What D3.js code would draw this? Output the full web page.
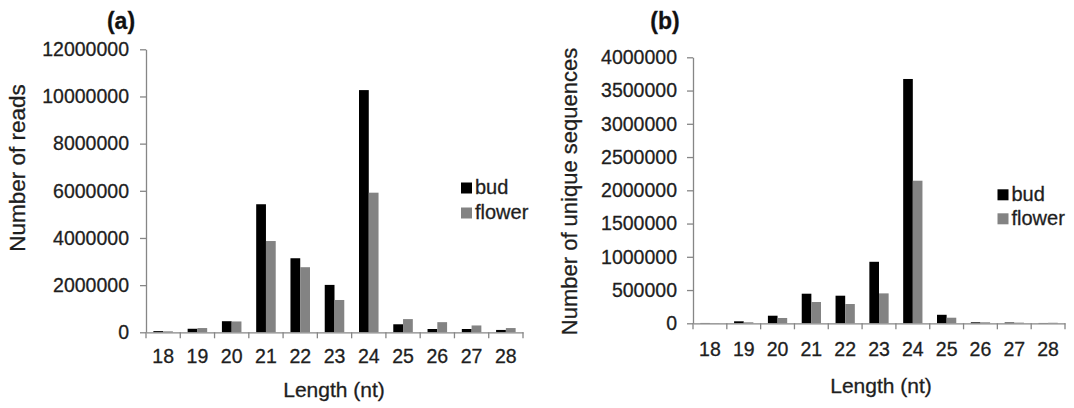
<!DOCTYPE html>
<html>
<head>
<meta charset="utf-8">
<script src="https://cdn.jsdelivr.net/npm/d3@7"></script>
<style>
  html, body { margin: 0; padding: 0; background: #fff; }
  svg { display: block; font-family: "Liberation Sans", Arial, sans-serif; }
  svg text { stroke: #1e1e1e; stroke-width: 0.3px; }
</style>
</head>
<body>
<svg id="chart" width="1074" height="408"></svg>
<script>
// ---------- data ----------
const lengths = ["18", "19", "20", "21", "22", "23", "24", "25", "26", "27", "28"];
const seriesNames = ["bud", "flower"];
const seriesColors = ["#000000", "#838383"];

// (a) Number of reads
const readsBud    = [50000, 150000, 470000, 5430000, 3140000, 2010000, 10270000, 340000, 140000, 140000, 100000];
const readsFlower = [40000, 180000, 460000, 3870000, 2760000, 1370000, 5920000, 560000, 430000, 290000, 180000];
const readsTicks  = [0, 2000000, 4000000, 6000000, 8000000, 10000000, 12000000];

// (b) Number of unique sequences
const uniqueBud    = [5000, 30000, 114000, 445000, 415000, 925000, 3674000, 128000, 15000, 12000, 5000];
const uniqueFlower = [3000, 15000, 80000, 320000, 290000, 450000, 2144000, 84000, 15000, 10000, 8000];
const uniqueTicks  = [0, 500000, 1000000, 1500000, 2000000, 2500000, 3000000, 3500000, 4000000];

const panelTitles = ["(a)", "(b)"];
const yTitles = ["Number of reads", "Number of unique sequences"];
const xTitle = "Length (nt)";

// ---------- drawing ----------
const svg = d3.select("#chart");
const textColor = "#1e1e1e";
const axisColor = "#868686";

function drawPanel(opt) {
  const g = svg.append("g");
  const x = d3.scaleBand().domain(lengths).range([opt.x0, opt.x1])
    .paddingInner(0.43).paddingOuter(0.215);
  const xs = d3.scaleBand().domain(seriesNames).range([0, x.bandwidth()]);
  const y = d3.scaleLinear().domain([0, d3.max(opt.ticks)]).range([opt.y0, opt.y1]);

  const rows = lengths.map((c, i) => ({ c, vals: [opt.bud[i], opt.flower[i]] }));

  // bars
  const grp = g.append("g").selectAll("g").data(rows).join("g")
    .attr("transform", d => `translate(${x(d.c)},0)`);
  grp.selectAll("rect")
    .data(d => d.vals.map((v, k) => ({ name: seriesNames[k], v, k })))
    .join("rect")
    .attr("x", d => xs(d.name))
    .attr("width", xs.bandwidth())
    .attr("y", d => y(d.v))
    .attr("height", d => y(0) - y(d.v))
    .attr("fill", d => seriesColors[d.k]);

  // y axis
  const ya = g.append("g").attr("transform", `translate(${opt.x0},0)`)
    .call(d3.axisLeft(y).tickValues(opt.ticks).tickFormat(d3.format("d"))
      .tickSize(6).tickSizeOuter(0).tickPadding(opt.yPad));
  ya.selectAll("path, line").attr("stroke", axisColor).attr("stroke-width", 1.3);
  ya.selectAll("text").attr("font-size", 19.5).attr("fill", textColor)
    .attr("font-family", "'Liberation Sans', Arial, sans-serif");

  // x axis (labels at category centers)
  const xa = g.append("g").attr("transform", `translate(0,${y(0)})`)
    .call(d3.axisBottom(x).tickSize(0).tickSizeOuter(0).tickPadding(opt.xPad));
  xa.selectAll("path").attr("stroke", axisColor).attr("stroke-width", 1.3);
  xa.selectAll("text").attr("font-size", 19.5).attr("fill", textColor)
    .attr("font-family", "'Liberation Sans', Arial, sans-serif");

  // tick marks at category boundaries
  const half = x.step() * x.paddingInner() / 2;
  const bounds = lengths.map(c => x(c) - half).concat([x(lengths[lengths.length - 1]) + x.bandwidth() + half]);
  g.append("g").selectAll("line").data(bounds).join("line")
    .attr("x1", d => d).attr("x2", d => d)
    .attr("y1", y(0)).attr("y2", y(0) + 6)
    .attr("stroke", axisColor).attr("stroke-width", 1.3);

  // panel title
  g.append("text").attr("x", opt.titleX).attr("y", 28.5)
    .attr("text-anchor", "middle").attr("font-size", 23).attr("font-weight", "bold")
    .attr("fill", "#111").text(opt.title);

  // y title
  g.append("text")
    .attr("transform", `translate(${opt.yTitleX},${opt.yTitleY}) rotate(-90)`)
    .attr("text-anchor", "middle").attr("font-size", opt.yTitleSize)
    .attr("fill", textColor).text(opt.yTitle);

  // x title
  g.append("text").attr("x", opt.xTitleX).attr("y", opt.xTitleY)
    .attr("text-anchor", "middle").attr("font-size", 21)
    .attr("fill", textColor).text(xTitle);

  // legend
  const lg = g.append("g").selectAll("g").data(seriesNames).join("g")
    .attr("transform", (d, i) => `translate(${opt.legX},${opt.legY + i * opt.legStep})`);
  lg.append("rect").attr("x", 0).attr("y", -11).attr("width", 11).attr("height", 11)
    .attr("fill", (d, i) => seriesColors[i]);
  lg.append("text").attr("x", 14).attr("y", 0.5).attr("font-size", 20)
    .attr("fill", textColor).text(d => d);
}

drawPanel({
  x0: 146, x1: 523, y0: 332.3, y1: 49.3,
  bud: readsBud, flower: readsFlower, ticks: readsTicks,
  yPad: 11, xPad: 17,
  title: panelTitles[0], titleX: 121,
  yTitle: yTitles[0], yTitleX: 25, yTitleY: 168, yTitleSize: 22.5,
  xTitleX: 334, xTitleY: 397,
  legX: 461, legY: 193.5, legStep: 25
});

drawPanel({
  x0: 693, x1: 1065, y0: 323.3, y1: 57.3,
  bud: uniqueBud, flower: uniqueFlower, ticks: uniqueTicks,
  yPad: 10, xPad: 19,
  title: panelTitles[1], titleX: 665,
  yTitle: yTitles[1], yTitleX: 577, yTitleY: 191.5, yTitleSize: 22,
  xTitleX: 881, xTitleY: 393,
  legX: 997.5, legY: 200.3, legStep: 24
});
</script>
</body>
</html>
